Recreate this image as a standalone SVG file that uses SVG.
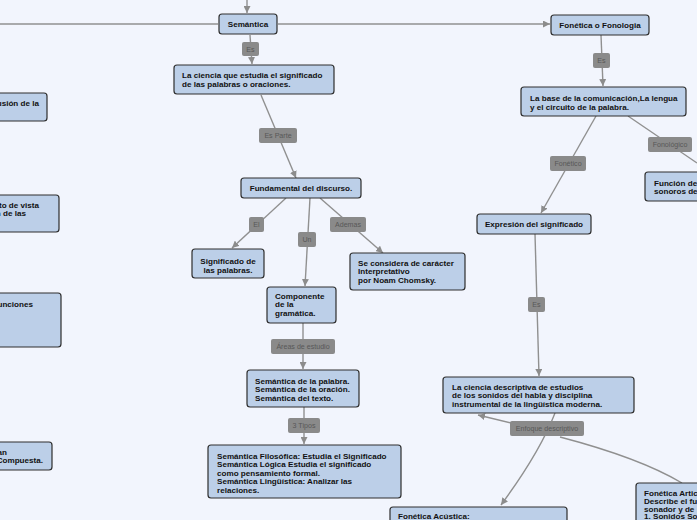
<svg xmlns="http://www.w3.org/2000/svg" width="697" height="520" viewBox="0 0 697 520">
<defs>
<marker id="arr" viewBox="0 0 10 10" refX="10" refY="5" markerWidth="7" markerHeight="7" markerUnits="userSpaceOnUse" orient="auto"><path d="M0,0 L10,5 L0,10 z" fill="#8c8c8c"/></marker>
<style>
.n rect{fill:#bccfe8;stroke:#2e2e2e;stroke-width:1.2}
.n text{font-family:"Liberation Sans",Arial,sans-serif;font-weight:bold;font-size:8.1px;fill:#111}
.n .m{text-anchor:middle}
.n .e{text-anchor:end}
.c{fill:none;stroke:#909090;stroke-width:1.4}
.a{marker-end:url(#arr)}
.l rect{fill:#8a8a8a}
.l text{font-family:"Liberation Sans",Arial,sans-serif;font-size:7.1px;fill:#585858;text-anchor:middle}
</style>
</defs>
<rect x="0" y="0" width="697" height="520" fill="#f2f5fd"/>
<g id="connectors">
<path class="c a" d="M247,0 L247,13"/>
<path class="c" d="M0,24 L218,24"/>
<path class="c a" d="M278,24 L550,24"/>
<path class="c a" d="M250,35 L252,64"/>
<path class="c a" d="M261,95 L296,178"/>
<path class="c a" d="M286,198 L232,248"/>
<path class="c a" d="M310,198 L305,286"/>
<path class="c a" d="M320,198 L383,253"/>
<path class="c a" d="M303,323 L303,369"/>
<path class="c a" d="M304,407 L304,444"/>
<path class="c a" d="M601,35 L603,86"/>
<path class="c a" d="M596,116 L541,213"/>
<path class="c" d="M628,116 L697,163"/>
<path class="c a" d="M535,234 L539,376"/>
<path class="c a" d="M555,413 Q540,452 501,505"/>
<path class="c a" d="M515,424 L478,415"/>
<path class="c" d="M560,437 Q640,458 682,483"/>
<g class="l">
<rect x="242" y="42" width="17" height="14" rx="2"/><text x="250.5" y="51.5">Es</text>
<rect x="259" y="128" width="38" height="15" rx="2"/><text x="278" y="138">Es Parte</text>
<rect x="249" y="217" width="15" height="15" rx="2"/><text x="256.5" y="227">El</text>
<rect x="298" y="232" width="18" height="15" rx="2"/><text x="307" y="242">Un</text>
<rect x="330" y="217" width="36" height="15" rx="2"/><text x="348" y="227">Ademas</text>
<rect x="271" y="339" width="64" height="15" rx="2"/><text x="303" y="349">Áreas de estudio</text>
<rect x="288" y="418" width="32" height="15" rx="2"/><text x="304" y="428">3 Tipos</text>
<rect x="593" y="53" width="17" height="15" rx="2"/><text x="601.5" y="63">Es</text>
<rect x="550" y="156" width="36" height="15" rx="2"/><text x="568" y="166">Fonético</text>
<rect x="648" y="137" width="44" height="15" rx="2"/><text x="670" y="147">Fonológico</text>
<rect x="528" y="297" width="17" height="15" rx="2"/><text x="536.5" y="307">Es</text>
<rect x="510" y="421" width="74" height="15" rx="2"/><text x="547" y="431">Enfoque descriptivo</text>
</g>
</g>
<g id="semantica" class="n"><rect x="219" y="14" width="58" height="20" rx="3"/><text class="m" x="248" y="27">Semántica</text></g>
<g id="fonetica" class="n"><rect x="551" y="15" width="98" height="20" rx="3"/><text class="m" x="600" y="28">Fonética o Fonologia</text></g>
<g id="ciencia" class="n"><rect x="174" y="65" width="160" height="29" rx="3"/><text x="182" y="78">La ciencia que estudia el significado</text><text x="182" y="87">de las palabras o oraciones.</text></g>
<g id="fundamental" class="n"><rect x="241" y="178" width="120" height="20" rx="3"/><text class="m" x="301" y="191">Fundamental del discurso.</text></g>
<g id="significado" class="n"><rect x="192" y="249" width="72" height="29" rx="3"/><text class="m" x="228" y="263.5">Significado de</text><text class="m" x="228" y="272.5">las palabras.</text></g>
<g id="componente" class="n"><rect x="267" y="287" width="69" height="36" rx="3"/><text x="275" y="298.5">Componente</text><text x="275" y="307">de la</text><text x="275" y="315.5">gramática.</text></g>
<g id="chomsky" class="n"><rect x="350" y="253" width="115" height="37" rx="3"/><text x="358" y="265.5">Se considera de carácter</text><text x="358" y="274">Interpretativo</text><text x="358" y="282.5">por Noam Chomsky.</text></g>
<g id="areas" class="n"><rect x="247" y="370" width="112" height="37" rx="3"/><text x="255" y="383.5">Semántica de la palabra.</text><text x="255" y="392">Semántica de la oración.</text><text x="255" y="400.5">Semántica del texto.</text></g>
<g id="tipos" class="n"><rect x="208" y="445" width="193" height="53" rx="3"/><text x="217" y="458.5">Semántica Filosófica: Estudia el Significado</text><text x="217" y="467">Semántica Lógica Estudia el significado</text><text x="217" y="475.5">como pensamiento formal.</text><text x="217" y="484">Semántica Lingüística: Analizar las</text><text x="217" y="492.5">relaciones.</text></g>
<g id="base" class="n"><rect x="521" y="87" width="165" height="29" rx="3"/><text x="530" y="100.5">La base de la comunicación,La lengua</text><text x="530" y="109.5">y el circuito de la palabra.</text></g>
<g id="funcion" class="n"><rect x="645" y="172" width="70" height="29" rx="3"/><text x="654" y="185.5">Función de</text><text x="654" y="193.5">sonoros de</text></g>
<g id="expresion" class="n"><rect x="477" y="214" width="114" height="20" rx="3"/><text class="m" x="534" y="227">Expresión del significado</text></g>
<g id="descriptiva" class="n"><rect x="443" y="377" width="191" height="36" rx="3"/><text x="452" y="389.5">La ciencia descriptiva de estudios</text><text x="452" y="398">de los sonidos del habla y disciplina</text><text x="452" y="406.5">instrumental de la lingüística moderna.</text></g>
<g id="acustica" class="n"><rect x="390" y="507" width="177" height="30" rx="3"/><text x="398" y="518.5">Fonética Acústica:</text></g>
<g id="articulatoria" class="n"><rect x="636" y="483" width="80" height="50" rx="3"/><text x="644" y="495.5">Fonética Artic</text><text x="644" y="503.5">Describe el fu</text><text x="644" y="511.5">sonador y de</text><text x="644" y="519.3">1. Sonidos So</text></g>
<g id="izq1" class="n"><rect x="-10" y="93" width="57" height="28" rx="3"/><text class="e" x="39" y="105.5">usión de la</text></g>
<g id="izq2" class="n"><rect x="-10" y="195" width="69" height="37" rx="3"/><text class="e" x="39" y="207.5">to de vista</text><text class="e" x="26" y="216">n de las</text></g>
<g id="izq3" class="n"><rect x="-10" y="293" width="71" height="54" rx="3"/><text class="e" x="33" y="306.5">unciones</text></g>
<g id="izq4" class="n"><rect x="-10" y="442" width="62" height="28" rx="3"/><text class="e" x="7" y="454.5">an</text><text class="e" x="43" y="462.5">Compuesta.</text></g>
</svg>
